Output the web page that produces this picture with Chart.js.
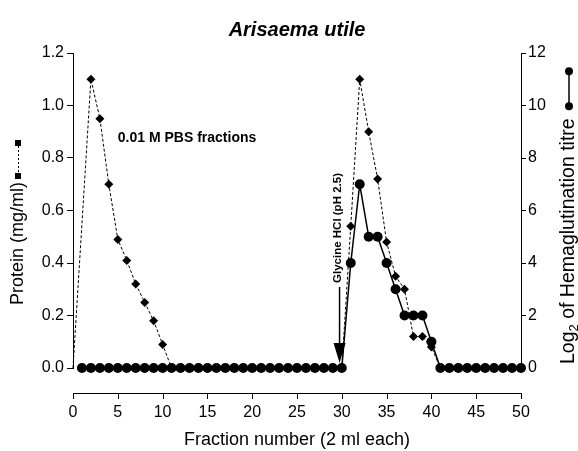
<!DOCTYPE html>
<html>
<head>
<meta charset="utf-8">
<title>Arisaema utile</title>
<script src="https://cdn.jsdelivr.net/npm/chart.js@4.4.1/dist/chart.umd.min.js"></script>
<style>
  html, body { margin: 0; padding: 0; background: #fff; }
  #wrap { width: 578px; height: 451px; }
</style>
</head>
<body>
<div id="wrap"><canvas id="chart"></canvas></div>
<script>
// ========== 1. Data ==========
const fractions = [0, 1, 2, 3, 4, 5, 6, 7, 8, 9, 10,
  11, 12, 13, 14, 15, 16, 17, 18, 19, 20,
  21, 22, 23, 24, 25, 26, 27, 28, 29, 30,
  31, 32, 33, 34, 35, 36, 37, 38, 39, 40,
  41, 42, 43, 44, 45, 46, 47, 48, 49, 50];

// Protein (mg/ml), dashed line with diamonds (fraction 1 not measured)
const protein = [0, null, 1.10, 0.95, 0.70, 0.49, 0.41, 0.32, 0.25, 0.18, 0.09,
  0, 0, 0, 0, 0, 0, 0, 0, 0, 0,
  0, 0, 0, 0, 0, 0, 0, 0, 0, 0,
  0.54, 1.10, 0.90, 0.72, 0.48, 0.35, 0.30, 0.12, 0.12, 0.08,
  0, 0, 0, 0, 0, 0, 0, 0, 0, 0];

// Log2 of hemagglutination titre, solid line with circles
const titre = [null, 0, 0, 0, 0, 0, 0, 0, 0, 0, 0,
  0, 0, 0, 0, 0, 0, 0, 0, 0, 0,
  0, 0, 0, 0, 0, 0, 0, 0, 0, 0,
  4, 7, 5, 5, 4, 3, 2, 2, 2, 1,
  0, 0, 0, 0, 0, 0, 0, 0, 0, 0];

const xTicks = [0, 5, 10, 15, 20, 25, 30, 35, 40, 45, 50];
const proteinTicks = [0, 0.2, 0.4, 0.6, 0.8, 1.0, 1.2];
const titreTicks = [0, 2, 4, 6, 8, 10, 12];

const FONT = '"Liberation Sans", Arial, sans-serif';

function toPoints(values) {
  const pts = [];
  values.forEach((v, i) => {
    if (v !== null) pts.push({ x: fractions[i], y: v });
  });
  return pts;
}

// ========== 2. Extra drawing: offset x axis, axis titles with keys, notes ==========
const extras = {
  id: 'extras',
  afterDraw(chart) {
    const ctx = chart.ctx;
    const x = chart.scales.x;
    const y = chart.scales.y;
    const area = chart.chartArea;
    ctx.save();
    ctx.strokeStyle = '#000';
    ctx.fillStyle = '#000';

    // offset x axis line with ticks
    const axisY = area.bottom + 25;
    ctx.lineWidth = 1;
    ctx.beginPath();
    ctx.moveTo(x.getPixelForValue(0), axisY + 0.5);
    ctx.lineTo(x.getPixelForValue(50), axisY + 0.5);
    xTicks.forEach(t => {
      const px = Math.round(x.getPixelForValue(t)) + 0.5;
      ctx.moveTo(px, axisY);
      ctx.lineTo(px, axisY + 6);
    });
    ctx.stroke();

    // left axis title + key (dashed line with squares)
    ctx.font = '18px ' + FONT;
    ctx.textBaseline = 'middle';
    ctx.textAlign = 'left';
    ctx.save();
    ctx.translate(18, 305);
    ctx.rotate(-Math.PI / 2);
    ctx.fillText('Protein (mg/ml)', 0, 0);
    let w = ctx.measureText('Protein (mg/ml)').width;
    const k0 = w + 6, k1 = w + 39;
    ctx.fillRect(k0 - 3, -3, 6, 6);
    ctx.fillRect(k1 - 3, -3, 6, 6);
    ctx.setLineDash([2, 2]);
    ctx.beginPath();
    ctx.moveTo(k0, 0.5);
    ctx.lineTo(k1, 0.5);
    ctx.stroke();
    ctx.setLineDash([]);
    ctx.restore();

    // right axis title + key (solid line with circles)
    ctx.save();
    ctx.translate(569, 364);
    ctx.rotate(-Math.PI / 2);
    ctx.font = '19.5px ' + FONT;
    ctx.fillText('Log', 0, 0);
    let off = ctx.measureText('Log').width;
    ctx.font = '13px ' + FONT;
    ctx.fillText('2', off, 5);
    off += ctx.measureText('2').width;
    ctx.font = '19.5px ' + FONT;
    ctx.fillText(' of Hemaglutination titre', off, 0);
    off += ctx.measureText(' of Hemaglutination titre').width;
    const c0 = off + 12, c1 = off + 47;
    ctx.lineWidth = 1.5;
    ctx.beginPath();
    ctx.moveTo(c0, 0);
    ctx.lineTo(c1, 0);
    ctx.stroke();
    [c0, c1].forEach(c => {
      ctx.beginPath();
      ctx.arc(c, 0, 4, 0, Math.PI * 2);
      ctx.fill();
    });
    ctx.restore();

    // "0.01 M PBS fractions" note
    ctx.font = 'bold 14px ' + FONT;
    ctx.textAlign = 'left';
    ctx.fillText('0.01 M PBS fractions', x.getPixelForValue(5.0), y.getPixelForValue(0.875));

    // glycine elution arrow and label
    const ax = x.getPixelForValue(29.75);
    const tipY = y.getPixelForValue(0) - 5;
    ctx.lineWidth = 1.5;
    ctx.beginPath();
    ctx.moveTo(ax, tipY - 76);
    ctx.lineTo(ax, tipY - 18);
    ctx.stroke();
    ctx.beginPath();
    ctx.moveTo(ax - 6, tipY - 20);
    ctx.lineTo(ax + 6, tipY - 20);
    ctx.lineTo(ax, tipY);
    ctx.closePath();
    ctx.fill();

    ctx.save();
    ctx.translate(ax - 2, tipY - 135);
    ctx.rotate(-Math.PI / 2);
    ctx.font = 'bold 11.5px ' + FONT;
    ctx.textAlign = 'center';
    ctx.fillText('Glycine HCl (pH 2.5)', 0, 0);
    ctx.restore();

    ctx.restore();
  }
};

// ========== 3. Chart ==========
const ctx = document.getElementById('chart');
new Chart(ctx, {
  type: 'line',
  data: {
    datasets: [
      {
        label: 'Log2 of Hemaglutination titre',
        data: toPoints(titre),
        yAxisID: 'y1',
        borderColor: '#000',
        backgroundColor: '#000',
        borderWidth: 1.5,
        pointStyle: 'circle',
        pointRadius: 5,
        pointBorderWidth: 0,
        tension: 0,
        clip: false
      },
      {
        label: 'Protein (mg/ml)',
        data: toPoints(protein),
        yAxisID: 'y',
        borderColor: '#000',
        backgroundColor: '#000',
        borderWidth: 1,
        borderDash: [3, 2],
        pointStyle: 'rectRot',
        pointRadius: c => (c.raw && c.raw.y > 0 ? 4.5 : 0),
        pointBorderWidth: 0,
        tension: 0,
        spanGaps: true,
        clip: false
      }
    ]
  },
  options: {
    responsive: true,
    maintainAspectRatio: false,
    animation: false,
    devicePixelRatio: 1,
    layout: { padding: 0 },
    plugins: {
      legend: { display: false },
      tooltip: { enabled: false },
      title: {
        display: true,
        text: 'Arisaema utile',
        fullSize: false,
        color: '#000',
        font: { family: FONT, size: 20, weight: 'bold', style: 'italic' },
        padding: { top: 18, bottom: 11 }
      }
    },
    scales: {
      x: {
        type: 'linear',
        min: 0,
        max: 50,
        afterFit: s => { s.height = 83; },
        afterBuildTicks: s => { s.ticks = xTicks.map(v => ({ value: v })); },
        grid: { display: true, drawOnChartArea: false, drawTicks: false },
        border: { display: false },
        ticks: { color: '#000', padding: 35, font: { family: FONT, size: 16 } },
        title: {
          display: true,
          text: 'Fraction number (2 ml each)',
          color: '#000',
          font: { family: FONT, size: 18 },
          padding: { top: 0, bottom: 0 }
        }
      },
      y: {
        position: 'left',
        min: 0,
        max: 1.2,
        afterFit: s => { s.width = 73; },
        afterBuildTicks: s => { s.ticks = proteinTicks.map(v => ({ value: v })); },
        grid: { drawOnChartArea: false, color: '#000', tickLength: 6 },
        border: { color: '#000', width: 1 },
        ticks: {
          color: '#000',
          padding: 3,
          font: { family: FONT, size: 16 },
          callback: v => v.toFixed(1)
        }
      },
      y1: {
        position: 'right',
        min: 0,
        max: 12,
        afterFit: s => { s.width = 57; },
        afterBuildTicks: s => { s.ticks = titreTicks.map(v => ({ value: v })); },
        grid: { drawOnChartArea: false, color: '#000', tickLength: 5 },
        border: { color: '#000', width: 1 },
        ticks: { color: '#000', padding: 2, font: { family: FONT, size: 16 } }
      }
    }
  },
  plugins: [extras]
});
</script>
</body>
</html>
